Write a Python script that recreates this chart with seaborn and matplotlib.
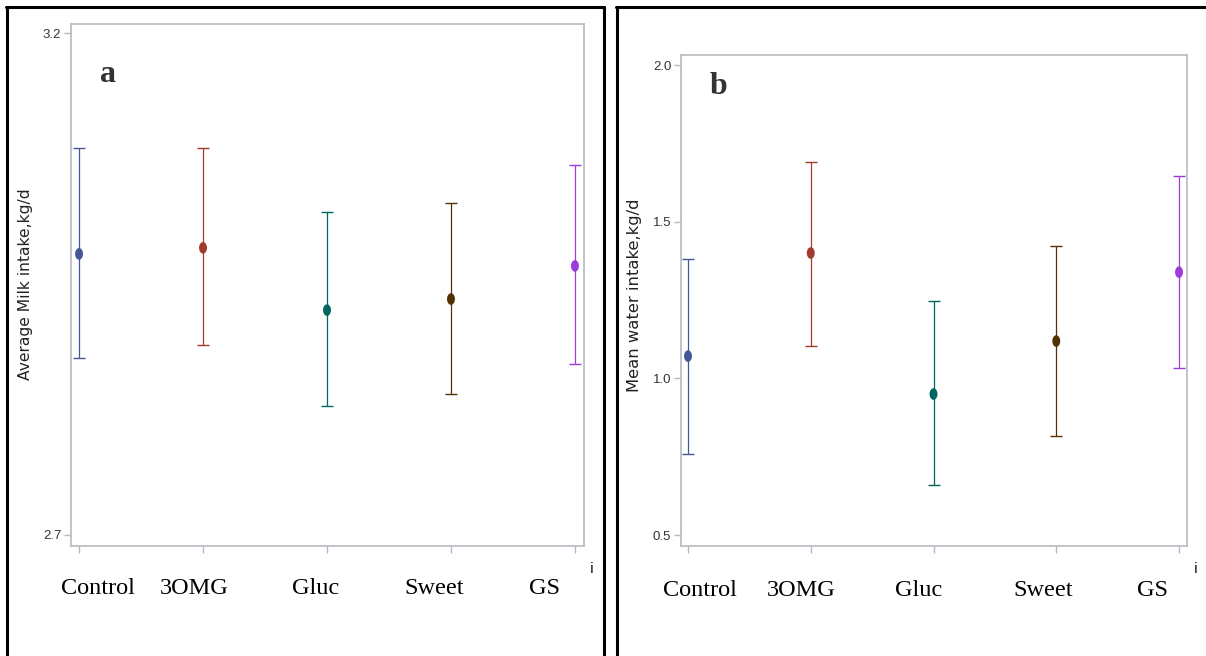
import numpy as np
import pandas as pd
import matplotlib
matplotlib.use("Agg")
import matplotlib.pyplot as plt
import seaborn as sns
from matplotlib.path import Path
from matplotlib.lines import Line2D

# ---------------- data ----------------
groups = ["Control", "3OMG", "Gluc", "Sweet", "GS"]
colors = ["#445694", "#A23A2E", "#01665E", "#543005", "#9D3CDB"]

milk_mean = [2.980, 2.986, 2.924, 2.935, 2.968]
milk_lower = [2.876, 2.889, 2.828, 2.840, 2.870]
milk_upper = [3.085, 3.085, 3.022, 3.031, 3.069]

water_mean = [1.071, 1.400, 0.950, 1.119, 1.339]
water_lower = [0.758, 1.103, 0.659, 0.816, 1.033]
water_upper = [1.381, 1.690, 1.247, 1.422, 1.646]

milk_yticks = [2.7, 3.2]
water_yticks = [0.5, 1.0, 1.5, 2.0]
milk_ylabel = "Average Milk intake,kg/d"
water_ylabel = "Mean water intake,kg/d"
panel_labels = ["a", "b"]

# ---------------- style ----------------
sns.set_theme(style="white")
plt.rcParams["font.family"] = ["DejaVu Sans"]

W, H = 1206, 656
fig = plt.figure(figsize=(W / 100, H / 100), dpi=100)
fig.patch.set_facecolor("white")

def fx(px):
    return px / W

def fy(py):
    return 1 - py / H

# ellipse marker (taller than wide)
t = np.linspace(0, 2 * np.pi, 40)
ell = Path(np.column_stack([0.68 * np.cos(t), np.sin(t)]), closed=True)

spine_col = "#B4BBC0"
tick_font = ["Liberation Sans Narrow", "Liberation Sans", "DejaVu Sans"]

def panel(rect, means, lows, ups, ylim, xlim, yticks, ylabel, ylabel_x, ylabel_y,
          ylabel_size, lab, lab_xy, cat_x, cat_y, i_xy):
    ax = fig.add_axes(rect)
    df = pd.DataFrame({"group": groups, "mean": means, "lo": lows, "hi": ups})
    sns.scatterplot(data=df, x="group", y="mean", hue="group", palette=colors,
                    marker=ell, s=70, edgecolor="none", legend=False, ax=ax, zorder=3)
    for i, row in df.iterrows():
        ax.errorbar(i, row["mean"],
                    yerr=[[row["mean"] - row["lo"]], [row["hi"] - row["mean"]]],
                    fmt="none", ecolor=colors[i], elinewidth=0.9, capsize=4.5,
                    capthick=1.0, zorder=2)
    ax.set_xlim(*xlim)
    ax.set_ylim(*ylim)
    ax.set_yticks(yticks)
    ax.set_yticklabels([f"{v:.1f}" for v in yticks], fontsize=9.5,
                       family=tick_font, color="#333333")
    ax.set_xticks(range(len(groups)))
    ax.set_xticklabels([])
    ax.set_xlabel("")
    ax.set_ylabel("")
    for s in ax.spines.values():
        s.set_color(spine_col)
        s.set_linewidth(1.2)
        s.set_visible(True)
    ax.tick_params(axis="both", which="both", direction="out", length=5,
                   width=1, color=spine_col, left=True, bottom=True, pad=2)
    ax.set_facecolor("white")
    fig.text(fx(ylabel_x), fy(ylabel_y), ylabel, rotation=90, ha="center",
             va="center", fontsize=ylabel_size, color="#222222")
    ax.text(*lab_xy, lab, transform=fig.transFigure, ha="center", va="center",
            fontsize=23, fontweight="bold", family="Liberation Serif",
            color="#333333")
    for g, xx in zip(groups, cat_x):
        fig.text(fx(xx), fy(cat_y), g, ha="center", va="center", fontsize=17.5,
                 family="Liberation Serif", color="black")
    fig.text(fx(i_xy[0]), fy(i_xy[1]), "i", ha="center", va="center",
             fontsize=10, color="black")
    return ax

# panel a
panel([fx(71), fy(546), fx(584) - fx(71), fy(24) - fy(546)],
      milk_mean, milk_lower, milk_upper,
      ylim=(2.689, 3.209), xlim=(-0.065, 4.073), yticks=milk_yticks,
      ylabel=milk_ylabel, ylabel_x=26, ylabel_y=284, ylabel_size=11.2,
      lab=panel_labels[0], lab_xy=(fx(108), fy(74)),
      cat_x=[98, 194, 316, 434, 545], cat_y=588, i_xy=(592, 569))

# panel b
panel([fx(681), fy(546), fx(1187) - fx(681), fy(55) - fy(546)],
      water_mean, water_lower, water_upper,
      ylim=(0.465, 2.032), xlim=(-0.057, 4.065), yticks=water_yticks,
      ylabel=water_ylabel, ylabel_x=635, ylabel_y=295, ylabel_size=11.8,
      lab=panel_labels[1], lab_xy=(fx(718), fy(86)),
      cat_x=[700, 801, 919, 1043, 1153], cat_y=590, i_xy=(1196, 569))

# outer black frames
def fline(xs, ys, lw=2.2):
    fig.add_artist(Line2D([fx(x) for x in xs], [fy(y) for y in ys],
                          transform=fig.transFigure, color="black", lw=lw))

fline([7, 7], [7, 660])
fline([6, 604], [7, 7])
fline([604, 604], [7, 660])
fline([617, 617], [7, 660])
fline([616, 1210], [7, 7])

fig.savefig("out.png", dpi=100, facecolor="white")
